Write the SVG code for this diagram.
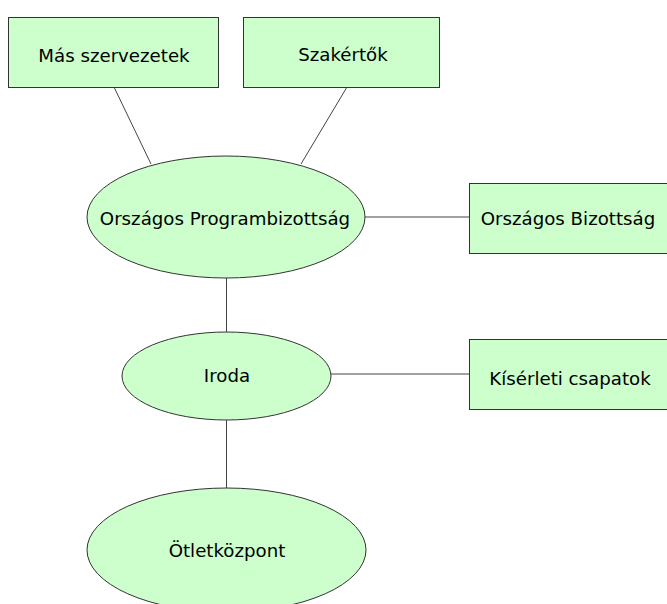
<svg xmlns="http://www.w3.org/2000/svg" width="667" height="604" viewBox="0 0 667 604">
<style>
.n{fill:#CCFFCC;stroke:#333;stroke-width:1}
.t{font-family:"DejaVu Sans",Verdana,sans-serif;font-size:18.2px;fill:#000;text-anchor:middle}
.c line{stroke:#444;stroke-width:1}
</style>
<rect width="667" height="604" fill="#fff"/>
<g class="c" id="connectors">
<line x1="114" y1="87" x2="151" y2="164"/>
<line x1="347" y1="87" x2="301" y2="164"/>
<line x1="365" y1="217" x2="469" y2="217"/>
<line x1="226.5" y1="278" x2="226.5" y2="332"/>
<line x1="331" y1="374" x2="469" y2="374"/>
<line x1="226.5" y1="420" x2="226.5" y2="488"/>
</g>
<g id="mas-szervezetek"><rect class="n" x="8.5" y="17.5" width="210" height="70"/><text class="t" x="114" y="62">Más szervezetek</text></g>
<g id="szakertok"><rect class="n" x="243.5" y="17.5" width="196" height="70"/><text class="t" x="343" y="61">Szakértők</text></g>
<g id="orszagos-programbizottsag"><ellipse class="n" cx="226" cy="217" rx="139" ry="61"/><text class="t" x="225" y="225">Országos Programbizottság</text></g>
<g id="orszagos-bizottsag"><rect class="n" x="469.5" y="183.5" width="200" height="70"/><text class="t" x="568" y="225">Országos Bizottság</text></g>
<g id="iroda"><ellipse class="n" cx="226.5" cy="376" rx="104.5" ry="44"/><text class="t" x="227" y="382">Iroda</text></g>
<g id="kiserleti-csapatok"><rect class="n" x="469.5" y="339.5" width="200" height="70"/><text class="t" x="570" y="385">Kísérleti csapatok</text></g>
<g id="otletkozpont"><ellipse class="n" cx="226.5" cy="550" rx="139.5" ry="62"/><text class="t" x="227" y="557">Ötletközpont</text></g>
</svg>
